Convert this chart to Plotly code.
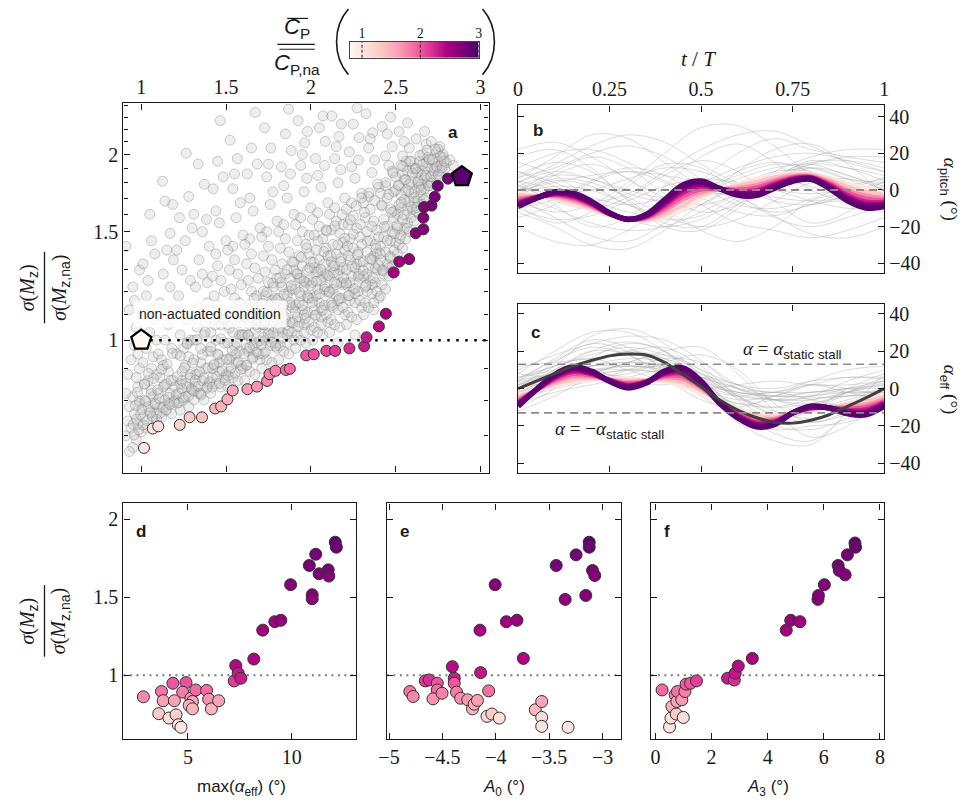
import numpy as np
import plotly.graph_objects as go
import plotly.colors as pc

W, H = 974, 802
def px(x): return x / W
def py(y): return 1 - y / H

CMIN, CMAX = 0.8, 3.0
RDPU = pc.sequential.RdPu

def cmap(v):
    return pc.sample_colorscale(RDPU, [(v - CMIN) / (CMAX - CMIN)])[0]

# ---------------- panel a data ----------------
gray_points = [
(0.91,0.70),(0.92,0.74),(0.93,0.78),(0.94,0.72),(0.95,0.81),(0.96,0.76),(0.97,0.69),(0.98,0.84),(0.99,0.79),(0.92,0.88),(0.94,0.93),(0.96,0.98),(0.97,1.05),(0.93,1.12),(0.95,1.22),(0.91,1.42),(0.98,0.73),(0.99,0.90),(0.95,0.67),(0.97,0.87),(0.93,0.66),(0.99,1.30),(0.96,1.16),(0.91,0.82),(0.98,0.95),
(1.01,0.75),(1.02,0.80),(1.03,0.72),(1.04,0.86),(1.05,0.77),(1.06,0.83),(1.07,0.74),(1.08,0.79),(1.09,0.88),(1.01,0.92),(1.03,0.97),(1.05,1.03),(1.07,0.94),(1.02,1.10),(1.04,1.25),(1.06,1.45),(1.08,1.08),(1.09,0.76),(1.10,0.82),(1.00,0.71),(1.04,0.78),(1.06,0.90),(1.08,1.38),(1.02,0.85),(1.09,1.00),(1.05,1.60),(1.03,1.18),(1.10,0.95),(1.07,0.81),(1.01,1.33),
(1.11,0.78),(1.12,0.75),(1.13,0.84),(1.14,0.80),(1.15,0.77),(1.16,0.89),(1.17,0.82),(1.18,0.76),(1.19,0.86),(1.12,0.93),(1.14,1.00),(1.16,1.06),(1.18,0.97),(1.11,1.15),(1.13,1.28),(1.15,1.40),(1.17,1.49),(1.19,1.12),(1.125,1.81),(1.185,1.66),(1.16,0.79),(1.20,0.80),(1.13,0.91),(1.15,0.85),(1.19,1.35),(1.11,0.87),(1.17,1.22),(1.14,1.68),
(1.21,0.79),(1.22,0.82),(1.23,0.77),(1.24,0.86),(1.25,0.80),(1.26,0.91),(1.27,0.84),(1.28,0.78),(1.29,0.88),(1.21,0.95),(1.23,1.02),(1.25,0.97),(1.27,1.08),(1.29,1.00),(1.22,1.18),(1.24,1.30),(1.26,1.45),(1.28,1.71),(1.225,1.58),(1.265,2.01),(1.30,0.83),(1.24,0.89),(1.26,0.81),(1.28,0.94),(1.21,1.40),(1.25,1.12),(1.29,1.25),(1.23,0.85),(1.27,0.99),(1.30,1.52),
(1.31,0.80),(1.32,0.84),(1.33,0.88),(1.34,0.82),(1.35,0.92),(1.36,0.86),(1.37,0.80),(1.38,0.90),(1.39,0.96),(1.31,1.00),(1.33,1.05),(1.35,1.10),(1.37,1.02),(1.39,1.15),(1.32,1.22),(1.34,1.35),(1.36,1.50),(1.385,1.57),(1.335,1.93),(1.372,1.79),(1.40,0.85),(1.31,0.93),(1.35,0.97),(1.39,0.84),(1.34,1.13),(1.36,1.28),(1.38,1.07),(1.32,0.88),(1.40,1.42),(1.35,0.82),(1.31,1.60),(1.39,1.24),
(1.41,0.82),(1.42,0.87),(1.43,0.91),(1.44,0.85),(1.45,0.95),(1.46,0.89),(1.47,0.84),(1.48,0.93),(1.49,0.99),(1.41,1.03),(1.43,1.08),(1.45,1.14),(1.47,1.06),(1.49,1.20),(1.42,1.27),(1.44,1.38),(1.46,1.55),(1.483,1.84),(1.424,1.76),(1.466,2.27),(1.50,0.88),(1.41,0.96),(1.44,1.00),(1.46,0.92),(1.48,1.12),(1.43,1.18),(1.45,1.32),(1.49,0.87),(1.50,1.45),(1.44,1.62),(1.47,1.25),(1.42,0.90),(1.49,1.08),(1.45,1.95),
(1.51,0.84),(1.52,0.89),(1.53,0.94),(1.54,0.87),(1.55,0.98),(1.56,0.92),(1.57,0.86),(1.58,0.96),(1.59,1.02),(1.51,1.06),(1.53,1.11),(1.55,1.17),(1.57,1.09),(1.59,1.23),(1.52,1.30),(1.54,1.42),(1.56,1.58),(1.584,1.67),(1.523,2.11),(1.566,1.97),(1.60,0.90),(1.51,0.99),(1.54,1.03),(1.56,0.95),(1.58,1.15),(1.53,1.21),(1.55,1.35),(1.59,0.91),(1.60,1.48),(1.54,1.76),(1.57,1.28),(1.52,0.93),(1.59,1.10),(1.55,1.86),(1.51,1.40),(1.58,1.02),
(1.61,0.86),(1.62,0.91),(1.63,0.96),(1.64,0.89),(1.65,1.00),(1.66,0.94),(1.67,0.88),(1.68,0.99),(1.69,1.05),(1.61,1.09),(1.63,1.14),(1.65,1.20),(1.67,1.12),(1.69,1.26),(1.62,1.33),(1.64,1.46),(1.66,1.62),(1.684,1.93),(1.625,1.86),(1.672,2.34),(1.70,0.93),(1.61,1.02),(1.64,1.06),(1.66,0.98),(1.68,1.18),(1.63,1.25),(1.65,1.38),(1.69,0.95),(1.70,1.52),(1.64,1.70),(1.67,1.31),(1.62,0.97),(1.69,1.13),(1.65,2.05),(1.61,1.43),(1.68,1.06),(1.66,1.10),(1.63,1.02),
(1.71,0.90),(1.72,0.95),(1.73,1.00),(1.74,0.93),(1.75,1.04),(1.76,0.98),(1.77,0.92),(1.78,1.03),(1.79,1.09),(1.71,1.13),(1.73,1.18),(1.75,1.24),(1.77,1.16),(1.79,1.30),(1.72,1.37),(1.74,1.50),(1.76,1.66),(1.776,1.74),(1.727,2.21),(1.764,2.05),(1.80,0.97),(1.71,1.06),(1.74,1.10),(1.76,1.02),(1.78,1.22),(1.73,1.29),(1.75,1.42),(1.79,0.99),(1.80,1.56),(1.74,1.84),(1.77,1.35),(1.72,1.01),(1.79,1.17),(1.75,1.93),(1.71,1.47),(1.78,1.10),(1.76,1.14),(1.73,1.07),(1.80,1.26),(1.72,1.20),
(1.81,0.93),(1.82,0.98),(1.83,1.03),(1.84,0.96),(1.85,1.08),(1.86,1.02),(1.87,0.95),(1.88,1.07),(1.89,1.13),(1.81,1.17),(1.83,1.22),(1.85,1.28),(1.87,1.20),(1.89,1.34),(1.82,1.41),(1.84,1.54),(1.86,1.70),(1.884,2.03),(1.826,1.91),(1.868,2.37),(1.90,1.00),(1.81,1.10),(1.84,1.14),(1.86,1.06),(1.88,1.26),(1.83,1.33),(1.85,1.46),(1.89,1.03),(1.90,1.60),(1.84,1.78),(1.87,1.39),(1.82,1.05),(1.89,1.21),(1.85,2.16),(1.81,1.50),(1.88,1.14),(1.86,1.18),(1.83,1.11),(1.90,1.30),(1.82,1.24),(1.86,0.99),(1.88,1.86),
(1.91,0.97),(1.92,1.02),(1.93,1.07),(1.94,1.00),(1.95,1.12),(1.96,1.06),(1.97,0.99),(1.98,1.11),(1.99,1.17),(1.91,1.21),(1.93,1.26),(1.95,1.32),(1.97,1.24),(1.99,1.38),(1.92,1.45),(1.94,1.58),(1.96,1.74),(1.976,1.83),(1.925,2.27),(1.964,2.09),(2.00,1.04),(1.91,1.14),(1.94,1.18),(1.96,1.10),(1.98,1.30),(1.93,1.37),(1.95,1.50),(1.99,1.07),(2.00,1.64),(1.94,1.92),(1.97,1.43),(1.92,1.09),(1.99,1.25),(1.95,2.00),(1.91,1.54),(1.98,1.18),(1.96,1.22),(1.93,1.15),(2.00,1.34),(1.92,1.28),(1.96,1.03),(1.98,2.18),(1.94,1.26),(1.99,1.48),
(2.01,1.00),(2.02,1.05),(2.03,1.10),(2.04,1.03),(2.05,1.15),(2.06,1.09),(2.07,1.02),(2.08,1.14),(2.09,1.20),(2.01,1.24),(2.03,1.29),(2.05,1.35),(2.07,1.27),(2.09,1.41),(2.02,1.48),(2.04,1.61),(2.06,1.77),(2.085,2.10),(2.027,1.97),(2.072,2.31),(2.10,1.07),(2.01,1.17),(2.04,1.21),(2.06,1.13),(2.08,1.33),(2.03,1.40),(2.05,1.53),(2.09,1.10),(2.10,1.67),(2.04,1.85),(2.07,1.46),(2.02,1.12),(2.09,1.28),(2.05,2.21),(2.01,1.57),(2.08,1.21),(2.06,1.25),(2.03,1.18),(2.10,1.37),(2.02,1.31),(2.06,1.06),(2.08,1.92),(2.04,1.29),(2.09,1.51),
(2.11,1.03),(2.12,1.08),(2.13,1.13),(2.14,1.06),(2.15,1.18),(2.16,1.12),(2.17,1.05),(2.18,1.17),(2.19,1.23),(2.11,1.27),(2.13,1.32),(2.15,1.38),(2.17,1.30),(2.19,1.44),(2.12,1.51),(2.14,1.64),(2.16,1.80),(2.176,1.89),(2.123,2.31),(2.166,2.14),(2.20,1.10),(2.11,1.20),(2.14,1.24),(2.16,1.16),(2.18,1.36),(2.13,1.43),(2.15,1.56),(2.19,1.13),(2.20,1.70),(2.14,1.97),(2.17,1.49),(2.12,1.15),(2.19,1.31),(2.15,2.06),(2.11,1.60),(2.18,1.24),(2.16,1.28),(2.13,1.21),(2.20,1.40),(2.12,1.34),(2.16,0.99),(2.18,2.24),(2.14,1.32),(2.19,1.54),
(2.21,1.06),(2.22,1.11),(2.23,1.16),(2.24,1.09),(2.25,1.21),(2.26,1.15),(2.27,1.08),(2.28,1.20),(2.29,1.26),(2.21,1.30),(2.23,1.35),(2.25,1.41),(2.27,1.33),(2.29,1.47),(2.22,1.54),(2.24,1.67),(2.26,1.83),(2.284,2.13),(2.226,2.02),(2.272,2.38),(2.30,1.13),(2.21,1.23),(2.24,1.27),(2.26,1.19),(2.28,1.39),(2.23,1.46),(2.25,1.59),(2.29,1.16),(2.30,1.73),(2.24,1.91),(2.27,1.52),(2.22,1.18),(2.29,1.34),(2.25,2.24),(2.21,1.63),(2.28,1.27),(2.26,1.31),(2.23,1.24),(2.30,1.43),(2.22,1.37),(2.26,1.02),(2.28,1.96),
(2.31,1.10),(2.32,1.15),(2.33,1.20),(2.34,1.13),(2.35,1.25),(2.36,1.19),(2.37,1.12),(2.38,1.24),(2.39,1.30),(2.31,1.34),(2.33,1.39),(2.35,1.45),(2.37,1.37),(2.39,1.51),(2.32,1.58),(2.34,1.71),(2.36,1.87),(2.376,1.96),(2.325,2.33),(2.364,2.17),(2.40,1.17),(2.31,1.27),(2.34,1.31),(2.36,1.23),(2.38,1.43),(2.33,1.50),(2.35,1.63),(2.39,1.20),(2.40,1.77),(2.34,2.05),(2.37,1.56),(2.32,1.22),(2.39,1.38),(2.35,2.12),(2.31,1.67),(2.38,1.31),(2.36,1.35),(2.33,1.28),(2.40,1.47),(2.37,1.15),
(2.41,1.18),(2.42,1.23),(2.43,1.28),(2.44,1.21),(2.45,1.33),(2.46,1.27),(2.47,1.36),(2.48,1.32),(2.49,1.40),(2.41,1.42),(2.43,1.47),(2.45,1.53),(2.47,1.45),(2.49,1.58),(2.42,1.65),(2.44,1.78),(2.46,1.92),(2.48,2.06),(2.42,2.22),(2.47,2.30),(2.50,1.44),(2.41,1.35),(2.44,1.39),(2.46,1.31),(2.48,1.50),(2.43,1.57),(2.45,1.70),(2.49,1.62),(2.50,1.84),(2.44,1.99),(2.47,1.63),(2.42,1.30),(2.49,1.74),(2.45,2.16),(2.41,1.73),(2.48,1.88),
(2.51,1.38),(2.52,1.43),(2.53,1.48),(2.54,1.41),(2.55,1.52),(2.56,1.46),(2.57,1.55),(2.58,1.50),(2.59,1.58),(2.51,1.60),(2.53,1.64),(2.55,1.69),(2.57,1.62),(2.59,1.73),(2.52,1.78),(2.54,1.86),(2.56,1.95),(2.58,2.05),(2.52,2.18),(2.57,2.25),(2.60,1.63),(2.51,1.52),(2.54,1.57),(2.56,1.75),(2.58,1.68),(2.53,1.72),(2.55,1.82),(2.59,1.81),(2.60,1.90),(2.54,1.99),(2.57,1.88),(2.52,1.66),(2.59,1.95),(2.55,2.10),(2.53,1.92),(2.58,1.79),
(2.61,1.56),(2.62,1.62),(2.63,1.68),(2.64,1.60),(2.65,1.72),(2.66,1.66),(2.67,1.76),(2.68,1.70),(2.69,1.80),(2.61,1.74),(2.63,1.80),(2.65,1.85),(2.67,1.83),(2.69,1.90),(2.62,1.90),(2.64,1.95),(2.66,2.00),(2.68,2.08),(2.62,2.12),(2.67,2.18),(2.70,1.78),(2.61,1.67),(2.64,1.77),(2.66,1.88),(2.68,1.94),(2.63,1.87),(2.65,1.79),(2.69,1.98),
(2.71,1.80),(2.72,1.86),(2.73,1.90),(2.74,1.84),(2.75,1.95),(2.76,1.88),(2.77,1.92),(2.78,1.98),(2.79,1.90),(2.72,1.96),(2.74,2.02),(2.76,2.06),(2.78,2.00),(2.80,1.94),(2.82,1.96),(2.84,1.92),(2.71,2.10),(2.75,2.04),
# dense band just above the front
(0.952,0.731),(0.958,0.702),(0.966,0.784),(0.971,0.745),(0.977,0.823),(0.985,0.716),(0.989,0.797),(0.996,0.758),
(1.004,0.772),(1.011,0.729),(1.019,0.848),(1.026,0.796),(1.034,0.741),(1.043,0.883),(1.051,0.763),(1.058,0.819),(1.066,0.752),(1.074,0.867),(1.083,0.788),(1.091,0.744),(1.097,0.831),
(1.106,0.804),(1.113,0.762),(1.121,0.897),(1.128,0.779),(1.137,0.846),(1.145,0.771),(1.152,0.915),(1.161,0.808),(1.169,0.787),(1.176,0.861),(1.184,0.952),(1.193,0.794),(1.198,0.839),
(1.207,0.816),(1.214,0.873),(1.222,0.792),(1.231,0.944),(1.238,0.835),(1.246,0.807),(1.255,0.902),(1.263,0.851),(1.271,0.986),(1.279,0.812),(1.288,0.869),(1.296,0.834),
(1.304,0.918),(1.311,0.827),(1.319,0.861),(1.328,1.002),(1.336,0.842),(1.344,0.889),(1.353,0.815),(1.361,0.947),(1.369,0.868),(1.377,1.031),(1.386,0.836),(1.394,0.902),
(1.403,0.856),(1.411,0.975),(1.419,0.839),(1.428,0.914),(1.436,1.058),(1.445,0.873),(1.453,0.947),(1.461,0.851),(1.470,1.005),(1.478,0.892),(1.487,1.083),(1.495,0.861),
(1.503,0.931),(1.512,0.876),(1.520,1.046),(1.529,0.902),(1.537,0.962),(1.546,1.112),(1.554,0.884),(1.563,0.989),(1.571,0.921),(1.580,1.067),(1.588,0.897),(1.597,1.021),
(1.605,0.951),(1.614,1.131),(1.622,0.912),(1.631,1.018),(1.639,0.973),(1.648,1.087),(1.656,0.934),(1.665,1.169),(1.673,1.041),(1.682,0.957),(1.690,1.102),(1.698,0.998),
(1.707,0.982),(1.715,1.148),(1.724,1.059),(1.732,0.957),(1.741,1.196),(1.749,1.024),(1.758,1.117),(1.766,0.993),(1.775,1.238),(1.783,1.072),(1.792,0.978),(1.799,1.163),
(1.808,1.046),(1.816,1.262),(1.825,1.121),(1.833,1.008),(1.842,1.187),(1.850,1.089),(1.859,1.301),(1.867,1.034),(1.876,1.152),(1.884,1.226),(1.893,1.067),(1.899,1.338),
(1.908,1.111),(1.916,1.282),(1.925,1.052),(1.933,1.196),(1.942,1.363),(1.950,1.138),(1.959,1.247),(1.967,1.085),(1.976,1.411),(1.984,1.172),(1.993,1.309),(1.999,1.226),
(2.008,1.152),(2.016,1.337),(2.025,1.097),(2.033,1.246),(2.042,1.448),(2.050,1.189),(2.059,1.302),(2.067,1.118),(2.076,1.392),(2.084,1.221),(2.093,1.503),(2.099,1.274),
(2.108,1.196),(2.116,1.372),(2.125,1.139),(2.133,1.287),(2.142,1.532),(2.150,1.231),(2.159,1.428),(2.167,1.168),(2.176,1.341),(2.184,1.598),(2.193,1.262),(2.199,1.463),
(2.208,1.238),(2.216,1.421),(2.225,1.182),(2.233,1.567),(2.242,1.319),(2.250,1.486),(2.259,1.214),(2.267,1.652),(2.276,1.377),(2.284,1.279),(2.293,1.541),(2.299,1.701),
(2.308,1.297),(2.316,1.612),(2.325,1.228),(2.333,1.448),(2.342,1.733),(2.350,1.356),(2.359,1.529),(2.367,1.262),(2.376,1.684),(2.384,1.408),(2.393,1.792),(2.399,1.323),
(2.408,1.382),(2.416,1.657),(2.425,1.296),(2.433,1.528),(2.442,1.802),(2.450,1.451),(2.459,1.723),(2.467,1.367),(2.476,1.612),(2.484,1.868),(2.493,1.489),(2.499,1.751),
(2.508,1.534),(2.516,1.785),(2.525,1.462),(2.533,1.672),(2.542,1.913),(2.550,1.597),(2.559,1.821),(2.567,1.518),(2.576,1.744),(2.584,1.952),(2.593,1.646),(2.599,1.866),
(2.608,1.703),(2.616,1.897),(2.625,1.641),(2.633,1.812),(2.642,1.993),(2.650,1.754),(2.659,1.928),(2.667,1.688),(2.676,1.851),(2.684,2.032),(2.693,1.779),(2.699,1.962),
(2.708,1.842),(2.716,1.963),(2.725,1.881),(2.733,2.041),(2.742,1.912),(2.751,1.858),(2.762,1.987),(2.774,1.903),(2.786,1.951),
]
gray_x = [p[0] for p in gray_points]
gray_y = [p[1] for p in gray_points]

pareto_cp = [1.016,1.068,1.10,1.227,1.285,1.358,1.436,1.471,1.508,1.539,1.626,1.682,1.742,1.756,1.791,1.853,1.876,
             1.973,2.017,2.091,2.143,2.227,2.314,2.328,2.401,2.442,2.488,2.521,2.579,2.618,2.663,2.663,2.667,2.711,
             2.730,2.748,2.808]
pareto_sig = [0.669,0.719,0.725,0.729,0.750,0.750,0.775,0.781,0.802,0.829,0.833,0.841,0.859,0.881,0.892,0.895,0.899,
              0.945,0.949,0.961,0.961,0.970,0.978,1.011,1.053,1.104,1.288,1.341,1.354,1.491,1.513,1.580,1.644,1.653,
              1.708,1.780,1.828]
na_point = (1.0, 1.0)
best_point = (2.89, 1.842)

A_XRANGE = [0.895, 3.047]
A_YRANGE = [0.61, 2.42]

# ---------------- panels b, c data ----------------
t_coarse = [0.0,0.1,0.2,0.3,0.4,0.5,0.6,0.7,0.8,0.9,1.0]
t_fine = [0.0,0.05,0.1,0.15,0.2,0.25,0.3,0.35,0.4,0.45,0.5,0.55,0.6,0.65,0.7,0.75,0.8,0.85,0.9,0.95,1.0]

gray_pitch_curves = [
[0,10,18,12,-2,-12,-8,4,12,8,0],
[5,-8,-20,-15,2,18,25,15,0,-5,5],
[-10,-5,5,12,8,-4,-12,-14,-8,-6,-10],
[8,15,10,-5,-18,-20,-8,6,14,12,8],
[-5,-15,-25,-28,-18,-2,10,15,10,2,-5],
[12,20,22,15,5,-2,0,8,15,16,12],
[-2,5,2,-8,-12,-5,10,22,25,14,-2],
[3,-6,-10,-4,8,16,10,-6,-18,-12,3],
[15,8,-5,-15,-10,5,20,28,22,18,15],
[-8,-18,-12,2,14,12,-2,-15,-20,-15,-8],
[0,4,8,10,8,4,0,-4,-6,-4,0],
[6,18,30,28,15,2,-8,-10,-5,2,6],
[-12,-20,-30,-32,-22,-8,2,6,2,-5,-12],
[10,2,-6,-2,10,22,30,32,24,15,10],
[-4,8,14,6,-10,-22,-28,-20,-6,-2,-4],
[2,-2,0,6,12,10,2,-6,-8,-3,2],
[18,22,12,-6,-20,-22,-10,5,14,18,18],
[-15,-8,4,10,4,-8,-18,-22,-26,-22,-15],
[7,12,20,24,18,6,-6,-12,-8,0,7],
[-6,-12,-8,4,20,34,35,24,8,-2,-6],
[4,14,24,30,26,14,4,0,-2,0,4],
[-20,-28,-30,-22,-10,-2,-4,-14,-24,-26,-20],
[10,4,-4,-8,-4,4,12,18,20,16,10],
[-3,-10,-18,-22,-20,-12,-2,8,12,6,-3],
[0,6,4,-4,-14,-20,-16,-6,4,6,0],
[22,26,18,6,-4,-8,-2,10,18,22,22],
[-10,-16,-14,-6,2,6,4,0,-6,-10,-10],
[5,0,-8,-16,-20,-16,-6,6,16,12,5],
[2,8,6,-2,-6,-2,6,12,14,8,2],
[-6,-2,-6,-12,-14,-8,2,10,10,2,-6],
[4,10,6,0,-4,0,8,14,12,6,4],
[-2,2,0,-8,-16,-14,-4,6,8,2,-2],
]

gray_eff_curves = [
[0,10,20,25,20,8,-5,-10,-8,-4,0],
[5,15,22,18,8,0,-6,-4,2,6,5],
[-8,2,12,16,14,4,-10,-20,-22,-16,-8],
[10,18,24,28,26,15,0,-6,-4,4,10],
[-4,4,8,6,4,-2,-8,-10,-6,-4,-4],
[2,12,28,32,24,6,-12,-24,-28,-14,2],
[-12,-4,6,10,8,0,-4,-2,-6,-10,-12],
[6,10,14,20,22,12,-4,-14,-12,-2,6],
[0,8,10,4,2,6,2,-6,-10,-6,0],
[4,16,26,22,10,-4,-14,-16,-10,-2,4],
[-6,0,4,10,16,14,2,-2,2,-2,-6],
[8,20,30,30,20,2,-18,-28,-30,-12,8],
[-2,6,12,14,12,4,-2,-4,-4,-2,-2],
[0,4,6,8,14,18,10,-8,-18,-12,0],
[12,14,16,18,16,8,-2,-2,4,10,12],
[-10,0,16,24,20,2,-16,-22,-20,-18,-10],
[3,8,12,12,10,6,0,-6,-8,-2,3],
[-4,10,20,18,6,-6,-10,-4,2,0,-4],
[6,12,18,22,18,10,2,0,4,6,6],
[-6,2,8,14,20,22,8,-12,-26,-20,-6],
[2,6,10,12,10,2,-4,-6,-6,-2,2],
[0,14,24,20,12,4,-4,-12,-16,-10,0],
[8,6,8,14,18,10,-6,-16,-12,0,8],
[-2,4,14,20,16,2,-8,-6,-2,-2,-2],
[4,12,16,10,4,0,2,4,2,2,4],
[-8,-2,2,6,10,6,-4,-14,-18,-14,-8],
[2,8,12,14,12,6,0,-2,-2,0,2],
[0,6,10,10,8,2,-2,-4,-2,0,0],
[4,8,8,10,12,8,0,-4,-4,0,4],
[-3,3,9,12,11,5,-3,-6,-5,-4,-3],
]

pareto_curve_c = [1.0, 1.35, 1.7, 2.0, 2.3, 2.55, 2.75, 2.9]

pareto_pitch_curves = [
[-1,-3,-5,-8,-11,-14,-16,-17,-15.5,-11,-5,0,3.5,6.5,8.5,9.5,9,7,4,1.5,-1],
[-2.6,-3.3,-4.2,-6.8,-10,-13.7,-16,-16.3,-13.5,-8.3,-3,0.2,2.3,4.6,7,8.6,8.4,5.8,2,-0.8,-2.6],
[-4.2,-3.6,-3.4,-5.5,-9.1,-13.4,-16,-15.6,-11.5,-5.5,-1.1,0.4,1,2.7,5.5,7.6,7.8,4.6,0,-3,-4.2],
[-5.4,-3.8,-2.8,-4.6,-8.4,-13.2,-16,-15,-9.9,-3.5,0.4,0.5,0.1,1.3,4.3,6.9,7.3,3.6,-1.4,-4.7,-5.4],
[-6.6,-4.1,-2.2,-3.7,-7.6,-13,-16,-14.5,-8.4,-1.4,1.9,0.6,-0.8,-0.2,3.2,6.2,6.8,2.7,-2.9,-6.4,-6.6],
[-7.6,-4.2,-1.7,-2.9,-7.1,-12.8,-16,-14.1,-7.2,0.2,3,0.7,-1.6,-1.3,2.3,5.6,6.5,2,-4.1,-7.8,-7.6],
[-8.4,-4.4,-1.3,-2.3,-6.6,-12.6,-16,-13.7,-6.2,1.6,4,0.8,-2.2,-2.2,1.5,5.2,6.1,1.4,-5.1,-8.9,-8.4],
[-9,-4.5,-1,-1.8,-6.2,-12.5,-16,-13.4,-5.4,2.7,4.8,0.9,-2.7,-3,0.9,4.8,5.9,0.9,-5.9,-9.8,-9],
]

pareto_eff_curves = [
[-3,-1,1,3,4.5,5.5,5.5,5,3.5,1,-2.5,-6.5,-10.5,-13,-14,-13.5,-12,-10,-7.5,-5,-3],
[-4.3,-0.9,2.3,4.7,5.5,5.2,4.5,4.6,4.7,3,-1.2,-6.7,-11.5,-14.5,-15.1,-13.4,-11.5,-10.1,-8.7,-6.8,-4.3],
[-5.6,-0.8,3.6,6.4,6.4,4.9,3.5,4.2,5.8,5,0.1,-7,-12.6,-16,-16.1,-13.3,-11,-10.2,-9.9,-8.6,-5.6],
[-6.6,-0.7,4.6,7.7,7.1,4.6,2.7,3.9,6.7,6.5,1.0,-7.2,-13.4,-17.1,-16.9,-13.2,-10.6,-10.2,-10.7,-10,-6.6],
[-7.6,-0.7,5.6,9,7.9,4.4,1.9,3.6,7.6,8,2,-7.3,-14.1,-18.3,-17.7,-13.2,-10.3,-10.3,-11.6,-11.3,-7.6],
[-8.3,-0.6,6.3,10.1,8.4,4.2,1.3,3.4,8.3,9.2,2.7,-7.5,-14.8,-19.2,-18.3,-13.1,-10,-10.3,-12.3,-12.4,-8.3],
[-9,-0.5,7,10.9,8.9,4,0.8,3.2,8.8,10.2,3.4,-7.6,-15.3,-19.9,-18.9,-13,-9.7,-10.4,-12.9,-13.3,-9],
[-9.5,-0.5,7.5,11.6,9.3,3.9,0.4,3,9.3,11,3.9,-7.7,-15.7,-20.5,-19.3,-13,-9.5,-10.4,-13.4,-14,-9.5],
]

na_eff_curve = [0,4,8,12,15,17.5,18.5,18,14,7.5,1,-6,-11.5,-15.5,-18,-18.5,-17,-14,-9.5,-5,0]
alpha_static_stall = 13.0

# ---------------- panels d, e, f data ----------------
d_x = [2.86,3.73,3.81,3.60,4.09,4.28,4.35,4.43,4.54,4.67,4.91,4.75,5.14,5.22,5.06,5.22,5.38,5.90,6.00,6.13,6.48,
       7.23,7.30,7.42,7.55,8.60,8.17,9.18,9.47,9.94,10.84,10.98,10.98,11.15,11.31,11.75,11.78,12.09,12.14]
d_y = [0.862,0.896,0.837,0.754,0.726,0.949,0.837,0.747,0.683,0.667,0.953,0.892,0.853,0.832,0.807,0.785,0.906,0.903,
       0.847,0.785,0.837,0.964,1.062,1.013,0.981,1.289,1.104,1.343,1.352,1.580,1.703,1.516,1.490,1.775,1.650,1.675,
       1.635,1.852,1.820]
d_c = [1.74,1.85,1.60,1.30,1.10,2.00,1.60,1.25,1.04,1.02,2.02,1.80,1.71,1.58,1.51,1.47,1.90,1.88,1.68,1.47,1.60,
       2.12,2.41,2.33,2.31,2.49,2.44,2.52,2.58,2.66,2.73,2.66,2.62,2.75,2.71,2.71,2.67,2.87,2.80]

e_x = [-4.805,-4.774,-4.66,-4.624,-4.548,-4.548,-4.588,-4.503,-4.407,-4.389,-4.389,-4.368,-4.329,-4.263,-4.218,
       -4.202,-4.172,-4.148,-4.142,-4.067,-4.082,-4.037,-4.006,-3.967,-3.901,-3.802,-3.742,-3.63,-3.57,-3.57,-3.57,
       -3.434,-3.35,-3.323,-3.248,-3.157,-3.125,-3.125,-3.094,-3.073]
e_y = [0.896,0.864,0.964,0.970,0.949,0.906,0.849,0.885,1.055,0.981,0.949,0.892,0.853,0.843,0.785,0.815,0.839,1.289,
       1.017,0.900,0.737,0.752,1.580,0.726,1.343,1.352,1.108,0.779,0.832,0.730,0.673,1.703,1.486,0.667,1.771,1.511,
       1.852,1.820,1.671,1.639]
e_c = [1.85,1.75,2.12,2.2,2.0,1.90,1.69,1.78,2.40,2.31,2.0,1.80,1.71,1.66,1.47,1.52,1.62,2.49,2.34,1.87,1.15,1.29,
       2.66,1.10,2.52,2.58,2.44,1.45,1.58,1.10,1.03,2.73,2.62,1.02,2.75,2.66,2.87,2.80,2.71,2.67]

f_x = [0.235,0.50,0.55,0.585,0.70,0.76,0.78,0.737,0.936,0.99,1.05,1.09,1.25,1.46,2.57,2.81,2.84,2.95,3.45,4.66,
       4.82,5.15,5.79,5.81,6.02,6.51,6.55,6.76,6.84,7.11,7.13]
f_y = [0.906,0.669,0.726,0.800,0.875,0.832,0.896,0.752,0.843,0.730,0.896,0.943,0.949,0.964,0.981,0.970,1.013,1.059,
       1.108,1.289,1.352,1.343,1.486,1.511,1.580,1.703,1.671,1.643,1.771,1.847,1.820]
f_c = [1.90,1.02,1.10,1.50,1.76,1.58,1.85,1.29,1.66,1.10,1.80,1.97,2.0,2.12,2.31,2.2,2.33,2.40,2.44,2.49,2.58,2.52,
       2.62,2.66,2.66,2.73,2.71,2.67,2.75,2.85,2.80]

cbar_ticks = [1, 2, 3]

# ---------------- figure ----------------
SERIF = "Liberation Serif"
SANS = "Liberation Sans"
INK = "#1a1a1a"
fig = go.Figure()

# panel a
fig.add_trace(go.Scatter(x=gray_x, y=gray_y, mode="markers", xaxis="x", yaxis="y",
                         marker=dict(size=10, color="rgba(200,200,200,0.30)",
                                     line=dict(color="rgba(95,95,95,0.30)", width=1))))
fig.add_trace(go.Scatter(x=[na_point[0], A_XRANGE[1]], y=[na_point[1], na_point[1]], mode="lines",
                         xaxis="x", yaxis="y", line=dict(color="black", width=2.5, dash="2.5px,6.5px")))
fig.add_trace(go.Scatter(x=pareto_cp, y=pareto_sig, mode="markers", xaxis="x", yaxis="y",
                         marker=dict(size=11, color=pareto_cp, colorscale=RDPU, cmin=CMIN, cmax=CMAX,
                                     line=dict(color="#333", width=1))))
fig.add_trace(go.Scatter(x=[na_point[0]], y=[na_point[1]], mode="markers", xaxis="x", yaxis="y",
                         marker=dict(symbol="pentagon", size=21, color="#fff8f5", line=dict(color="black", width=2.2))))
fig.add_trace(go.Scatter(x=[best_point[0]], y=[best_point[1]], mode="markers", xaxis="x", yaxis="y",
                         marker=dict(symbol="pentagon", size=21, color=cmap(best_point[0]),
                                     line=dict(color="black", width=2.2))))

GRAY_LINE = "rgba(170,170,170,0.42)"
def cw(c):
    return 3 + 2.6 * (c - 1) / 1.9

# panel b
for cur in gray_pitch_curves:
    fig.add_trace(go.Scatter(x=t_coarse, y=cur, mode="lines", xaxis="x2", yaxis="y2",
                             line=dict(color=GRAY_LINE, width=1, shape="spline")))
for c, cur in zip(pareto_curve_c, pareto_pitch_curves):
    fig.add_trace(go.Scatter(x=t_fine, y=cur, mode="lines", xaxis="x2", yaxis="y2",
                             line=dict(color=cmap(c), width=cw(c), shape="spline")))

# panel c
for cur in gray_eff_curves:
    fig.add_trace(go.Scatter(x=t_coarse, y=cur, mode="lines", xaxis="x3", yaxis="y3",
                             line=dict(color=GRAY_LINE, width=1, shape="spline")))
for c, cur in zip(pareto_curve_c, pareto_eff_curves):
    fig.add_trace(go.Scatter(x=t_fine, y=cur, mode="lines", xaxis="x3", yaxis="y3",
                             line=dict(color=cmap(c), width=cw(c), shape="spline")))
fig.add_trace(go.Scatter(x=t_fine, y=na_eff_curve, mode="lines", xaxis="x3", yaxis="y3",
                         line=dict(color="#404040", width=3, shape="spline")))

# panels d, e, f
for xs, ys, cs, xa, ya in [(d_x, d_y, d_c, "x4", "y4"), (e_x, e_y, e_c, "x5", "y5"), (f_x, f_y, f_c, "x6", "y6")]:
    fig.add_trace(go.Scatter(x=xs, y=ys, mode="markers", xaxis=xa, yaxis=ya,
                             marker=dict(size=12, color=cs, colorscale=RDPU, cmin=CMIN, cmax=CMAX,
                                         line=dict(color="#333", width=1))))

# colour bar as heatmap strip
cbar_vals = np.linspace(CMIN, CMAX, 221)
fig.add_trace(go.Heatmap(x=cbar_vals, y=[0], z=[cbar_vals], colorscale=RDPU, zmin=CMIN, zmax=CMAX,
                         showscale=False, zsmooth="best", xaxis="x7", yaxis="y7", hoverinfo="skip"))

def axis(**kw):
    d = dict(showline=True, linecolor=INK, linewidth=1.3, mirror="ticks", ticks="inside", ticklen=6,
             tickwidth=1.2, tickcolor=INK, showgrid=False, zeroline=False,
             tickfont=dict(family=SERIF, size=20, color=INK))
    d.update(kw)
    return d

A_DOM_X = [px(117), px(487)]
A_DOM_Y = [py(473), py(102)]
B_DOM_X = [px(517), px(888)]
B_DOM_Y = [py(272), py(104)]
C_DOM_Y = [py(473), py(304)]
DEF_DOM_Y = [py(741), py(504)]

layout = dict(
    width=W, height=H, margin=dict(l=0, r=0, t=0, b=0), showlegend=False,
    paper_bgcolor="white", plot_bgcolor="white",
    xaxis=axis(domain=A_DOM_X, anchor="y", side="top", range=A_XRANGE,
               tickvals=[1, 1.5, 2, 2.5, 3], ticktext=["1", "1.5", "2", "2.5", "3"]),
    yaxis=axis(domain=A_DOM_Y, anchor="x", type="log", range=[np.log10(A_YRANGE[0]), np.log10(A_YRANGE[1])],
               tickvals=[1, 1.5, 2], ticktext=["1", "1.5", "2"],
               minor=dict(tickvals=[0.7, 0.8, 0.9, 1.1, 1.2, 1.3, 1.4, 1.6, 1.7, 1.8, 1.9, 2.1, 2.2, 2.3, 2.4],
                          ticks="inside", ticklen=4, tickwidth=1, tickcolor=INK, showgrid=False)),
    xaxis2=axis(domain=B_DOM_X, anchor="y2", side="top", range=[0, 1],
                tickvals=[0, 0.25, 0.5, 0.75, 1], ticktext=["0", "0.25", "0.5", "0.75", "1"]),
    yaxis2=axis(domain=B_DOM_Y, anchor="x2", side="right", range=[-45, 46], tickvals=[-40, -20, 0, 20, 40]),
    xaxis3=axis(domain=B_DOM_X, anchor="y3", range=[0, 1], tickvals=[0, 0.25, 0.5, 0.75, 1], showticklabels=False),
    yaxis3=axis(domain=C_DOM_Y, anchor="x3", side="right", range=[-45, 45], tickvals=[-40, -20, 0, 20, 40]),
    xaxis4=axis(domain=[px(117), px(353)], anchor="y4", range=[1.9, 13.1], tickvals=[5, 10]),
    yaxis4=axis(domain=DEF_DOM_Y, anchor="x4", range=[0.59, 2.1], tickvals=[1, 1.5, 2], ticktext=["1", "1.5", "2"]),
    xaxis5=axis(domain=[px(384), px(621)], anchor="y5", range=[-5.02, -2.83], tickvals=[-5, -4.5, -4, -3.5, -3]),
    yaxis5=axis(domain=DEF_DOM_Y, anchor="x5", range=[0.59, 2.1], tickvals=[1, 1.5, 2], showticklabels=False),
    xaxis6=axis(domain=[px(652), px(888)], anchor="y6", range=[-0.15, 8.15], tickvals=[0, 2, 4, 6, 8]),
    yaxis6=axis(domain=DEF_DOM_Y, anchor="x6", range=[0.59, 2.1], tickvals=[1, 1.5, 2], showticklabels=False),
    xaxis7=dict(domain=[px(347), px(477)], anchor="y7", side="top", range=[CMIN, CMAX], tickvals=cbar_ticks,
                ticks="", showline=True, mirror=True, linecolor="#444", linewidth=1, showgrid=False, zeroline=False,
                ticklabelstandoff=-3, tickfont=dict(family=SERIF, size=14, color=INK)),
    yaxis7=dict(domain=[py(56), py(40)], anchor="x7", range=[-0.5, 0.5], showticklabels=False, ticks="",
                showline=True, mirror=True, linecolor="#444", linewidth=1, showgrid=False, zeroline=False),
)
fig.update_layout(**layout)

shapes = []
shapes.append(dict(type="line", xref="x2 domain", yref="y2", x0=0, x1=1, y0=0, y1=0,
                   line=dict(color="#8a8a8a", width=2, dash="8px,5px"), layer="above"))
for s in (alpha_static_stall, -alpha_static_stall):
    shapes.append(dict(type="line", xref="x3 domain", yref="y3", x0=0, x1=1, y0=s, y1=s,
                       line=dict(color="#8a8a8a", width=1.6, dash="8px,5px"), layer="above"))
for xa, ya in [("x4", "y4"), ("x5", "y5"), ("x6", "y6")]:
    shapes.append(dict(type="line", xref=xa + " domain", yref=ya, x0=0, x1=1, y0=1, y1=1,
                       line=dict(color="#7a7a7a", width=2, dash="2px,4.5px"), layer="below"))
for v in cbar_ticks:
    shapes.append(dict(type="line", xref="x7", yref="y7 domain", x0=v, x1=v, y0=0, y1=1,
                       line=dict(color="#222", width=1, dash="3px,2px"), layer="above"))
for yc in (287, 622):
    shapes.append(dict(type="line", xref="paper", yref="paper", x0=px(37), x1=px(37), y0=py(yc - 36), y1=py(yc + 36),
                       line=dict(color=INK, width=1.3)))
shapes.append(dict(type="line", xref="paper", yref="paper", x0=px(283), x1=px(304), y0=py(16.5), y1=py(16.5),
                   line=dict(color=INK, width=1.2)))
shapes.append(dict(type="line", xref="paper", yref="paper", x0=px(273), x1=px(311), y0=py(42.5), y1=py(42.5),
                   line=dict(color=INK, width=1.3)))
shapes.append(dict(type="line", xref="paper", yref="paper", x0=px(275), x1=px(311), y0=py(47.5), y1=py(47.5),
                   line=dict(color=INK, width=1.2)))
def paren(xe, xm):
    return (f"M {px(xe)},{py(7)} C {px(xm)},{py(25)} {px(xm)},{py(55)} {px(xe)},{py(73)}")
shapes.append(dict(type="path", xref="paper", yref="paper", path=paren(345, 329), line=dict(color=INK, width=1.6)))
shapes.append(dict(type="path", xref="paper", yref="paper", path=paren(481, 497), line=dict(color=INK, width=1.6)))
fig.update_layout(shapes=shapes)

ann = []
def A(x, y, text, size=19, family=SERIF, angle=0, **kw):
    d = dict(x=px(x), y=py(y), xref="paper", yref="paper", text=text, showarrow=False, textangle=angle,
             font=dict(family=family, size=size, color=INK), xanchor="center", yanchor="middle")
    d.update(kw)
    ann.append(d)

sub_sans = lambda s: f"<span style='font-family:{SANS}'>{s}</span>"
for yc in (287, 622):
    A(21, yc, f"<i>σ</i>(<i>M</i><sub>{sub_sans('z')}</sub>)", size=20, angle=-90)
    A(53, yc, f"<i>σ</i>(<i>M</i><sub>{sub_sans('z,na')}</sub>)", size=20, angle=-90)
A(954, 188, f"<i>α</i><sub>{sub_sans('pitch')}</sub> (°)", size=19, angle=90)
A(954, 390, f"<i>α</i><sub>{sub_sans('eff')}</sub> (°)", size=19, angle=90)
A(700, 57, "<i>t</i> / <i>T</i>", size=21)
A(237, 790, f"max(<i>α</i><sub>eff</sub>) (°)", size=17, family=SANS)
A(503, 790, f"<i>A</i><sub>0</sub> (°)", size=17, family=SANS)
A(770, 790, f"<i>A</i><sub>3</sub> (°)", size=17, family=SANS)
A(293, 26, "<i>C</i><sub>P</sub>", size=22, family=SANS)
A(293, 62, "<i>C</i><sub>P,na</sub>", size=22, family=SANS)
A(795, 350, f"<i>α</i> = <i>α</i><sub>{sub_sans('static stall')}</sub>", size=19)
A(610, 430, f"<i>α</i> = −<i>α</i><sub>{sub_sans('static stall')}</sub>", size=19)
A(205, 314, "non-actuated condition", size=14, family=SANS, bgcolor="rgba(255,255,255,0.82)", borderpad=5)
for (lx, ly, lt) in [(451, 131, "a"), (537, 129, "b"), (535, 332, "c"), (135, 532, "d"), (402, 532, "e"), (668, 532, "f")]:
    A(lx, ly, f"<b>{lt}</b>", size=17, family=SANS)
fig.update_layout(annotations=ann)

fig.write_html("out.html")
